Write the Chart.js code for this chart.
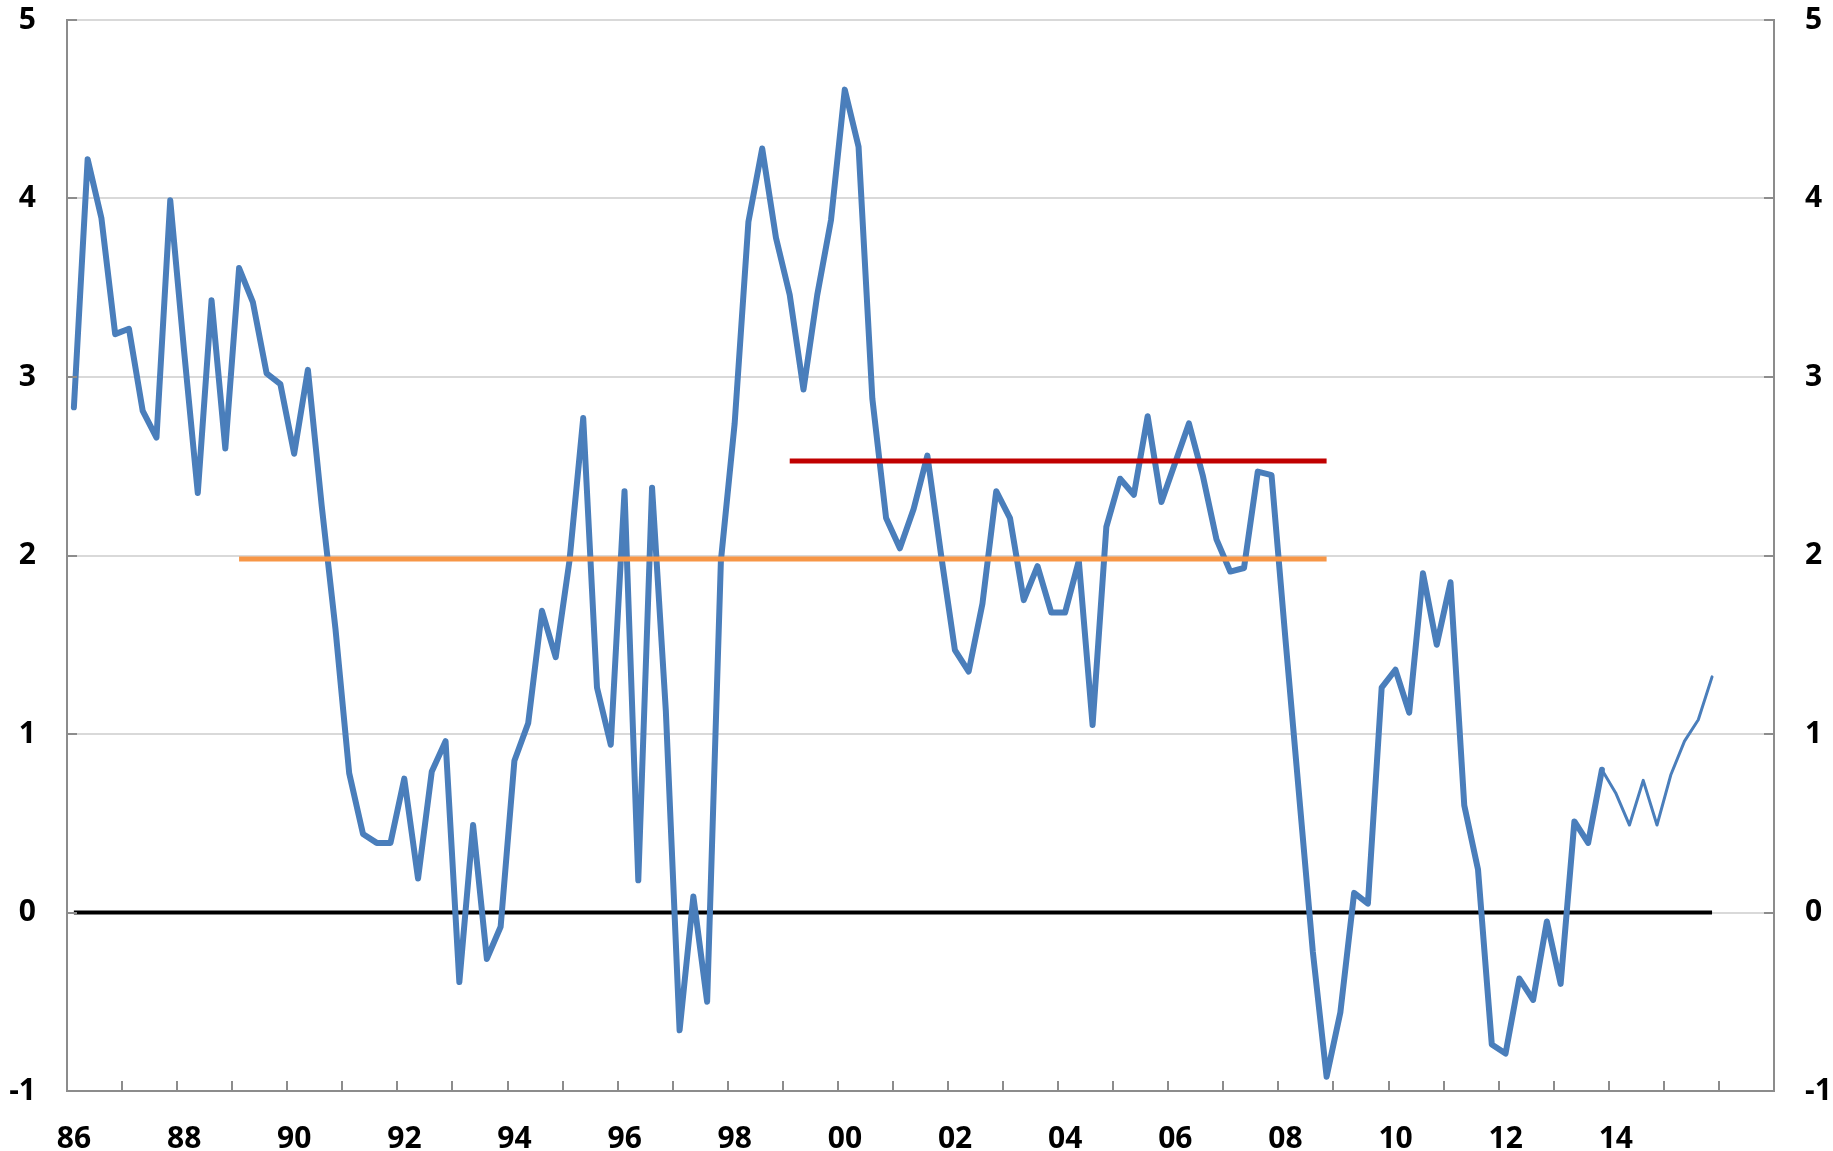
<!DOCTYPE html>
<html>
<head>
<meta charset="utf-8">
<title>Quarterly growth</title>
<script src="https://cdn.jsdelivr.net/npm/chart.js@4.4.1/dist/chart.umd.min.js"></script>
<style>
  html, body { margin: 0; padding: 0; background: #fff; }
  #chart { display: block; }
</style>
</head>
<body>
<canvas id="chart" width="1833" height="1151"></canvas>
<script>
// Quarterly series, 1986Q1 - 2015Q4
const firstQuarter = '1986Q1';
const growth = [
  2.83, 4.22, 3.89, 3.24, 3.27, 2.81, 2.66, 3.99,
  3.15, 2.35, 3.43, 2.60, 3.61, 3.42, 3.02, 2.96,
  2.57, 3.04, 2.28, 1.59, 0.78, 0.44, 0.39, 0.39,
  0.75, 0.19, 0.79, 0.96, -0.39, 0.49, -0.26, -0.08,
  0.85, 1.06, 1.69, 1.43, 1.97, 2.77, 1.26, 0.94,
  2.36, 0.18, 2.38, 1.13, -0.66, 0.09, -0.50, 1.97,
  2.74, 3.87, 4.28, 3.78, 3.46, 2.93, 3.46, 3.88,
  4.61, 4.29, 2.88, 2.21, 2.04, 2.26, 2.56, 2.00,
  1.47, 1.35, 1.73, 2.36, 2.21, 1.75, 1.94, 1.68,
  1.68, 1.97, 1.05, 2.16, 2.43, 2.34, 2.78, 2.30,
  2.52, 2.74, 2.45, 2.09, 1.91, 1.93, 2.47, 2.45,
  1.54, 0.66, -0.22, -0.92, -0.56, 0.11, 0.05, 1.26,
  1.36, 1.12, 1.90, 1.50, 1.85, 0.60, 0.24, -0.74,
  -0.79, -0.37, -0.49, -0.05, -0.40, 0.51, 0.39, 0.80,
  0.67, 0.49, 0.74, 0.49, 0.77, 0.96, 1.08, 1.32
];
// from this quarter on the series is drawn with a thin line
const thinFrom = '2013Q4';

// period averages
const longAvg = 1.98;
const longAvgPeriod = ['1989Q1', '2008Q4'];
const shortAvg = 2.53;
const shortAvgPeriod = ['1999Q1', '2008Q4'];

// axes
const xRange = [1986, 2017];
const xLabelYears = [1986, 1988, 1990, 1992, 1994, 1996, 1998, 2000, 2002, 2004, 2006, 2008, 2010, 2012, 2014];
const yTicks = [-1, 0, 1, 2, 3, 4, 5];

const BLUE = '#4a7ebb';
const ORANGE = '#f79646';
const RED = '#c00000';
const AXIS = '#8c8c8c';
const GRID = '#d9d9d9';
const FONT = { family: '"Open Sans", "Liberation Sans", sans-serif', size: 30, weight: 'bold' };

// a quarter sits in the middle of its slot on the year axis
function quarterX(q) {
  const year = parseInt(q.slice(0, 4), 10);
  const n = parseInt(q.slice(5), 10);
  return year + (n - 0.5) / 4;
}

function quarterIndex(q) {
  return Math.round((quarterX(q) - quarterX(firstQuarter)) * 4);
}

const x0 = quarterX(firstQuarter);
const growthPoints = growth.map((v, i) => ({ x: x0 + i / 4, y: v }));
const lastX = growthPoints[growthPoints.length - 1].x;
const thinIndex = quarterIndex(thinFrom);

function flatLine(value, period) {
  return [{ x: quarterX(period[0]), y: value }, { x: quarterX(period[1]), y: value }];
}

// short inward tick marks on the axes
const axisTicks = {
  id: 'axisTicks',
  afterDraw(chart) {
    const { ctx, chartArea, scales } = chart;
    ctx.save();
    ctx.strokeStyle = AXIS;
    ctx.lineWidth = 2;
    ctx.beginPath();
    for (let yr = xRange[0] + 1; yr < xRange[1]; yr++) {
      const px = Math.round(scales.x.getPixelForValue(yr));
      ctx.moveTo(px, chartArea.bottom);
      ctx.lineTo(px, chartArea.bottom - 10);
    }
    yTicks.forEach(v => {
      const py = Math.round(scales.y.getPixelForValue(v));
      ctx.moveTo(chartArea.left, py);
      ctx.lineTo(chartArea.left + 10, py);
      ctx.moveTo(chartArea.right, py);
      ctx.lineTo(chartArea.right - 10, py);
    });
    ctx.stroke();
    ctx.restore();
  }
};

const yScale = (position) => ({
  type: 'linear',
  position: position,
  min: yTicks[0],
  max: yTicks[yTicks.length - 1],
  afterBuildTicks: scale => { scale.ticks = yTicks.map(v => ({ value: v })); },
  grid: {
    display: position === 'left',
    color: GRID,
    lineWidth: 2,
    drawTicks: false
  },
  border: { display: true, color: AXIS, width: 2 },
  ticks: {
    color: '#000',
    font: FONT,
    padding: 31,
    align: 'center'
  },
  afterFit: scale => {
    scale.width = position === 'left' ? 67 : 59;
    scale.paddingTop = 0;
    scale.paddingBottom = 0;
  }
});

new Chart(document.getElementById('chart'), {
  type: 'line',
  data: {
    datasets: [
      {
        label: 'Average 1999-2008',
        data: flatLine(shortAvg, shortAvgPeriod),
        borderColor: RED,
        borderWidth: 5,
        pointRadius: 0
      },
      {
        label: 'Average 1989-2008',
        data: flatLine(longAvg, longAvgPeriod),
        borderColor: ORANGE,
        borderWidth: 5,
        pointRadius: 0
      },
      {
        label: 'Growth',
        data: growthPoints,
        borderColor: BLUE,
        borderWidth: 6,
        borderJoinStyle: 'round',
        borderCapStyle: 'round',
        pointRadius: 0,
        tension: 0,
        segment: {
          borderWidth: ctx => ctx.p0DataIndex >= thinIndex ? 3 : 6
        }
      },
      {
        label: 'Zero',
        data: [{ x: x0, y: 0 }, { x: lastX, y: 0 }],
        borderColor: '#000',
        borderWidth: 4,
        pointRadius: 0
      }
    ]
  },
  options: {
    responsive: false,
    animation: false,
    devicePixelRatio: 1,
    layout: { padding: { top: 20, left: 0, right: 0, bottom: 0 } },
    plugins: {
      legend: { display: false },
      tooltip: { enabled: false }
    },
    scales: {
      x: {
        type: 'linear',
        min: xRange[0],
        max: xRange[1],
        grid: { display: true, color: 'rgba(0,0,0,0)', drawTicks: false },
        border: { display: true, color: AXIS, width: 2 },
        ticks: {
          stepSize: 1,
          autoSkip: false,
          maxRotation: 0,
          maxTicksLimit: 50,
          labelOffset: 7,
          padding: 30,
          color: '#000',
          font: FONT,
          callback: v => xLabelYears.includes(v) ? String(v).slice(2) : ''
        },
        afterFit: scale => {
          scale.height = 60;
          scale.paddingLeft = 0;
          scale.paddingRight = 0;
        }
      },
      y: yScale('left'),
      y2: yScale('right')
    }
  },
  plugins: [axisTicks]
});
</script>
</body>
</html>
